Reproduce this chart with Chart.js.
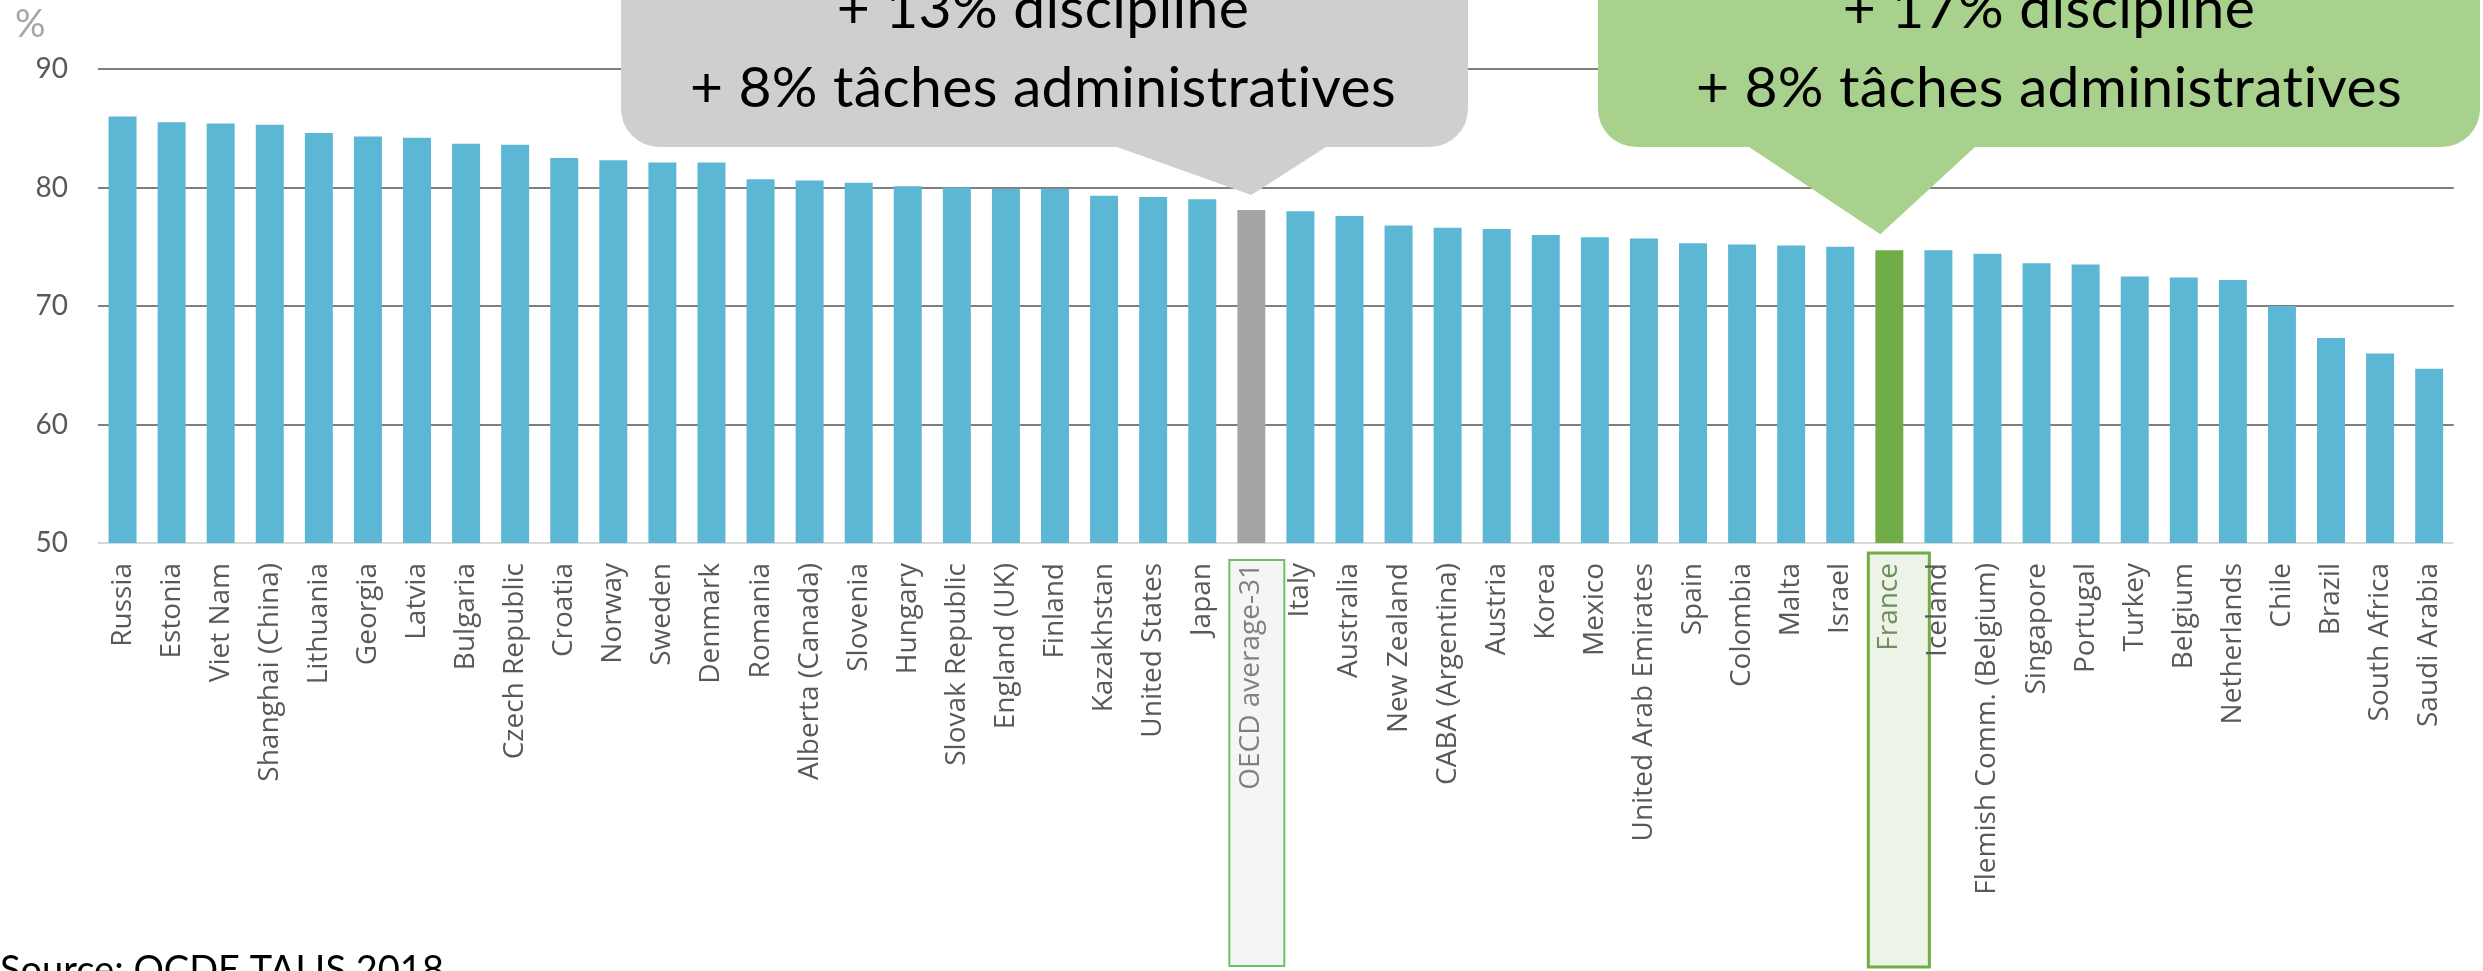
<!DOCTYPE html>
<html>
<head>
<meta charset="utf-8">
<title>TALIS 2018</title>
<script src="https://cdn.jsdelivr.net/npm/chart.js@4.4.1/dist/chart.umd.min.js"></script>
<style>
  html, body { margin: 0; padding: 0; background: #fff; overflow: hidden; }
  canvas { display: block; }
</style>
</head>
<body>
<canvas id="talisChart" width="2483" height="971"></canvas>
<script>
const countries = [
    'Russia', 'Estonia', 'Viet Nam', 'Shanghai (China)', 'Lithuania', 'Georgia', 'Latvia',
    'Bulgaria', 'Czech Republic', 'Croatia', 'Norway', 'Sweden', 'Denmark', 'Romania',
    'Alberta (Canada)', 'Slovenia', 'Hungary', 'Slovak Republic', 'England (UK)', 'Finland',
    'Kazakhstan', 'United States', 'Japan', 'OECD average-31', 'Italy', 'Australia',
    'New Zealand', 'CABA (Argentina)', 'Austria', 'Korea', 'Mexico', 'United Arab Emirates',
    'Spain', 'Colombia', 'Malta', 'Israel', 'France', 'Iceland', 'Flemish Comm. (Belgium)',
    'Singapore', 'Portugal', 'Turkey', 'Belgium', 'Netherlands', 'Chile', 'Brazil',
    'South Africa', 'Saudi Arabia'
];

const shares = [
    86.0, 85.5, 85.4, 85.3, 84.6, 84.3, 84.2,
    83.7, 83.6, 82.5, 82.3, 82.1, 82.1, 80.7,
    80.6, 80.4, 80.1, 80.0, 79.9, 79.9,
    79.3, 79.2, 79.0, 78.1, 78.0, 77.6,
    76.8, 76.6, 76.5, 76.0, 75.8, 75.7,
    75.3, 75.2, 75.1, 75.0, 74.7, 74.7, 74.4,
    73.6, 73.5, 72.5, 72.4, 72.2, 70.0, 67.3,
    66.0, 64.7
];

const yTicks = [50, 60, 70, 80, 90];

const oecdLabel = 'OECD average-31';
const franceLabel = 'France';
const oecdCallout = ['+ 13% discipline', '+ 8% tâches administratives'];
const franceCallout = ['+ 17% discipline', '+ 8% tâches administratives'];
const unitLabel = '%';
const sourceNote = 'Source: OCDE TALIS 2018';

const colors = {
    bar: '#5BB7D3', oecd: '#A5A5A5', france: '#70AD47',
    grid: '#7F7F7F', axis: '#D9D9D9', text: '#595959',
    greyBubble: '#D0CECE', greenBubble: '#A9D18E'
};

const barColors = countries.map(c => c === oecdLabel ? colors.oecd : (c === franceLabel ? colors.france : colors.bar));
const labelColors = countries.map(c => c === oecdLabel ? '#808080' : (c === franceLabel ? '#6E8F5C' : colors.text));

// boxes behind the two highlighted category labels
const labelBoxes = {
    id: 'labelBoxes',
    beforeDraw(chart) {
        const ctx = chart.ctx;
        const x = chart.scales.x;
        const oX = x.getPixelForValue(countries.indexOf(oecdLabel));
        const fX = x.getPixelForValue(countries.indexOf(franceLabel));
        ctx.save();
        ctx.fillStyle = '#F5F5F5';
        ctx.strokeStyle = '#6CC06C';
        ctx.lineWidth = 2;
        ctx.fillRect(oX - 22, 560, 55, 406);
        ctx.strokeRect(oX - 22, 560, 55, 406);
        ctx.fillStyle = '#EDF3E7';
        ctx.strokeStyle = colors.france;
        ctx.lineWidth = 3;
        ctx.fillRect(fX - 21, 553, 61, 414);
        ctx.strokeRect(fX - 21, 553, 61, 414);
        ctx.restore();
    }
};

function drawBubble(ctx, b) {
    const r = b.radius;
    ctx.beginPath();
    ctx.moveTo(b.left + r, b.top);
    ctx.lineTo(b.right - r, b.top);
    ctx.arcTo(b.right, b.top, b.right, b.top + r, r);
    ctx.lineTo(b.right, b.bottom - r);
    ctx.arcTo(b.right, b.bottom, b.right - r, b.bottom, r);
    ctx.lineTo(b.baseRight, b.bottom);
    ctx.lineTo(b.tipX, b.tipY);
    ctx.lineTo(b.baseLeft, b.bottom);
    ctx.lineTo(b.left + r, b.bottom);
    ctx.arcTo(b.left, b.bottom, b.left, b.bottom - r, r);
    ctx.lineTo(b.left, b.top + r);
    ctx.arcTo(b.left, b.top, b.left + r, b.top, r);
    ctx.closePath();
    ctx.fillStyle = b.fill;
    ctx.fill();

    ctx.fillStyle = '#000';
    ctx.font = '57px Lato, "Open Sans", sans-serif';
    if ('letterSpacing' in ctx) ctx.letterSpacing = '0.4px'; // keeps "ti" from turning into a ligature
    ctx.textAlign = 'center';
    ctx.textBaseline = 'alphabetic';
    b.lines.forEach((line, i) => ctx.fillText(line, b.textX, b.baselines[i]));
    if ('letterSpacing' in ctx) ctx.letterSpacing = '0px';
}

const annotations = {
    id: 'annotations',
    afterDraw(chart) {
        const ctx = chart.ctx;
        const x = chart.scales.x;
        const y = chart.scales.y;
        const oIdx = countries.indexOf(oecdLabel);
        const fIdx = countries.indexOf(franceLabel);
        ctx.save();

        drawBubble(ctx, {
            left: 621, right: 1468, top: -60, bottom: 147, radius: 38,
            baseLeft: 1117, baseRight: 1326,
            tipX: x.getPixelForValue(oIdx), tipY: y.getPixelForValue(shares[oIdx]) - 15,
            fill: colors.greyBubble, lines: oecdCallout, textX: 1043, baselines: [28, 107]
        });
        drawBubble(ctx, {
            left: 1598, right: 2480, top: -60, bottom: 147, radius: 38,
            baseLeft: 1749, baseRight: 1975,
            tipX: x.getPixelForValue(fIdx) - 9, tipY: y.getPixelForValue(shares[fIdx]) - 16,
            fill: colors.greenBubble, lines: franceCallout, textX: 2049, baselines: [28, 107]
        });

        ctx.textAlign = 'left';
        ctx.textBaseline = 'alphabetic';
        ctx.fillStyle = '#A6A6A6';
        ctx.font = '38px Lato, sans-serif';
        ctx.fillText(unitLabel, 15, 37);

        ctx.fillStyle = '#000';
        ctx.font = '38px Lato, sans-serif';
        ctx.fillText(sourceNote, 0, 983);
        ctx.restore();
    }
};

new Chart(document.getElementById('talisChart'), {
    type: 'bar',
    data: {
        labels: countries,
        datasets: [{
            data: shares,
            backgroundColor: barColors,
            barPercentage: 0.57,
            categoryPercentage: 1
        }]
    },
    options: {
        responsive: false,
        animation: false,
        devicePixelRatio: 1,
        layout: { padding: { top: 69, right: 21, bottom: 0, left: 0 } },
        plugins: { legend: { display: false }, tooltip: { enabled: false } },
        scales: {
            x: {
                grid: { display: false, drawTicks: false },
                border: { display: false },
                ticks: {
                    autoSkip: false, maxRotation: 90, minRotation: 90, padding: 20,
                    color: c => labelColors[c.index],
                    font: { family: 'Open Sans', size: 28 }
                },
                afterFit: s => { s.height = 428; }
            },
            y: {
                min: 50, max: 90,
                afterBuildTicks: s => { s.ticks = yTicks.map(v => ({ value: v })); },
                grid: {
                    color: c => c.tick.value === 50 ? colors.axis : colors.grid,
                    lineWidth: 2, drawTicks: false
                },
                border: { display: false },
                ticks: { padding: 30, color: colors.text, font: { family: 'Lato', size: 28 } },
                afterFit: s => { s.width = 98; }
            }
        }
    },
    plugins: [labelBoxes, annotations]
});
</script>
</body>
</html>
